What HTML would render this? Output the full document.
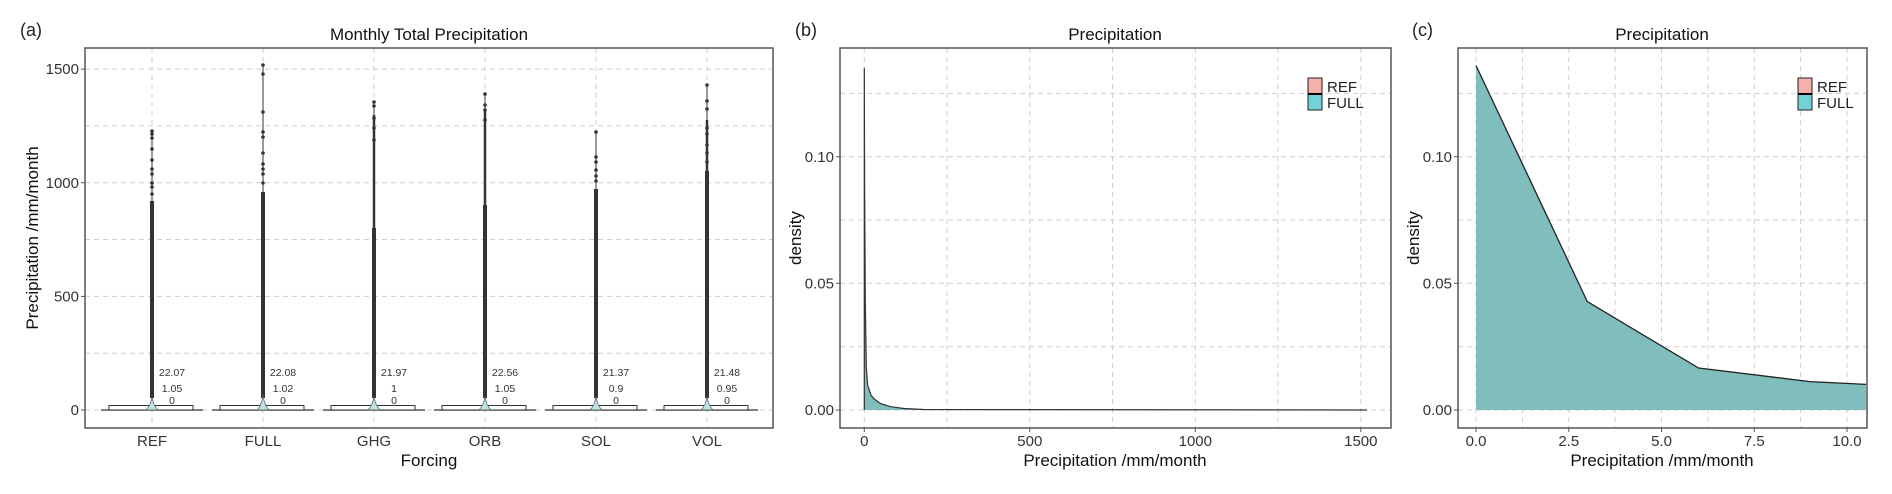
<!DOCTYPE html>
<html><head><meta charset="utf-8"><style>
html,body{margin:0;padding:0;background:#fff;}
svg{display:block;font-family:"Liberation Sans",Arial,sans-serif;}
</style></head><body>
<svg width="1892" height="494" viewBox="0 0 1892 494" xmlns="http://www.w3.org/2000/svg">
<rect width="1892" height="494" fill="#fff"/>
<!-- ============ PANEL A ============ -->
<text x="20" y="36" font-size="18" fill="#222">(a)</text>
<text x="429" y="40" font-size="17" fill="#111" text-anchor="middle">Monthly Total Precipitation</text>
<g stroke="#cfcfcf" stroke-width="1" stroke-dasharray="5,4" fill="none">
<line x1="85" x2="773" y1="410" y2="410"/><line x1="85" x2="773" y1="353.2" y2="353.2"/>
<line x1="85" x2="773" y1="296.4" y2="296.4"/><line x1="85" x2="773" y1="239.5" y2="239.5"/>
<line x1="85" x2="773" y1="182.7" y2="182.7"/><line x1="85" x2="773" y1="125.9" y2="125.9"/>
<line x1="85" x2="773" y1="69.1" y2="69.1"/>
<line x1="152" x2="152" y1="48" y2="428"/><line x1="263" x2="263" y1="48" y2="428"/>
<line x1="374" x2="374" y1="48" y2="428"/><line x1="485" x2="485" y1="48" y2="428"/>
<line x1="596" x2="596" y1="48" y2="428"/><line x1="707" x2="707" y1="48" y2="428"/>
</g>
<!-- boxes & whiskers -->
<g stroke="#333" stroke-width="1" fill="#fff">
<line x1="101" x2="203" y1="410" y2="410" stroke="#555" stroke-width="1.5"/><rect x="109" y="405.5" width="84" height="4.5"/>
<line x1="212" x2="314" y1="410" y2="410" stroke="#555" stroke-width="1.5"/><rect x="220" y="405.5" width="84" height="4.5"/>
<line x1="323" x2="425" y1="410" y2="410" stroke="#555" stroke-width="1.5"/><rect x="331" y="405.5" width="84" height="4.5"/>
<line x1="434" x2="536" y1="410" y2="410" stroke="#555" stroke-width="1.5"/><rect x="442" y="405.5" width="84" height="4.5"/>
<line x1="545" x2="647" y1="410" y2="410" stroke="#555" stroke-width="1.5"/><rect x="553" y="405.5" width="84" height="4.5"/>
<line x1="656" x2="758" y1="410" y2="410" stroke="#555" stroke-width="1.5"/><rect x="664" y="405.5" width="84" height="4.5"/>
</g>
<!-- outlier columns -->
<g stroke="#333" fill="#333">
<line x1="152" x2="152" y1="130" y2="400" stroke-width="1"/><line x1="152" x2="152" y1="201" y2="398" stroke-width="4"/>
<line x1="263" x2="263" y1="64" y2="400" stroke-width="1"/><line x1="263" x2="263" y1="192" y2="398" stroke-width="4"/>
<line x1="374" x2="374" y1="102" y2="400" stroke-width="1"/><line x1="374" x2="374" y1="228" y2="398" stroke-width="4"/><line x1="374" x2="374" y1="115" y2="228" stroke-width="2.5"/>
<line x1="485" x2="485" y1="94" y2="400" stroke-width="1"/><line x1="485" x2="485" y1="205" y2="398" stroke-width="4"/><line x1="485" x2="485" y1="110" y2="205" stroke-width="2.5"/>
<line x1="596" x2="596" y1="131" y2="400" stroke-width="1"/><line x1="596" x2="596" y1="189" y2="398" stroke-width="4"/>
<line x1="707" x2="707" y1="85" y2="400" stroke-width="1"/><line x1="707" x2="707" y1="171" y2="398" stroke-width="4"/><line x1="707" x2="707" y1="120" y2="171" stroke-width="2.5"/>
</g>
<g fill="#333">
<circle cx="152" cy="131" r="1.8"/><circle cx="152" cy="134" r="1.8"/><circle cx="152" cy="138" r="1.8"/><circle cx="152" cy="149" r="1.8"/><circle cx="152" cy="160" r="1.8"/><circle cx="152" cy="169" r="1.8"/><circle cx="152" cy="174" r="1.8"/><circle cx="152" cy="183" r="1.8"/><circle cx="152" cy="187" r="1.8"/><circle cx="152" cy="194" r="1.8"/>
<circle cx="263" cy="65" r="1.8"/><circle cx="263" cy="74" r="1.8"/><circle cx="263" cy="112" r="1.8"/><circle cx="263" cy="132" r="1.8"/><circle cx="263" cy="137" r="1.8"/><circle cx="263" cy="153" r="1.8"/><circle cx="263" cy="164" r="1.8"/><circle cx="263" cy="169" r="1.8"/><circle cx="263" cy="174" r="1.8"/><circle cx="263" cy="183" r="1.8"/>
<circle cx="374" cy="102" r="1.8"/><circle cx="374" cy="106" r="1.8"/><circle cx="374" cy="118" r="1.8"/><circle cx="374" cy="128" r="1.8"/><circle cx="374" cy="140" r="1.8"/>
<circle cx="485" cy="94" r="1.8"/><circle cx="485" cy="105" r="1.8"/><circle cx="485" cy="110" r="1.8"/><circle cx="485" cy="120" r="1.8"/>
<circle cx="596" cy="132" r="1.8"/><circle cx="596" cy="157" r="1.8"/><circle cx="596" cy="162" r="1.8"/><circle cx="596" cy="170" r="1.8"/><circle cx="596" cy="176" r="1.8"/><circle cx="596" cy="181" r="1.8"/>
<circle cx="707" cy="85" r="1.8"/><circle cx="707" cy="101" r="1.8"/><circle cx="707" cy="109" r="1.8"/><circle cx="707" cy="128" r="1.8"/><circle cx="707" cy="134" r="1.8"/><circle cx="707" cy="145" r="1.8"/><circle cx="707" cy="153" r="1.8"/><circle cx="707" cy="162" r="1.8"/>
</g>
<!-- violins -->
<g fill="#bfe0e3" stroke="#555" stroke-width="0.7">
<path d="M146,410 Q151,405 152,396 Q153,405 158,410 Z"/>
<path d="M257,410 Q262,405 263,394 Q264,405 269,410 Z"/>
<path d="M368,410 Q373,405 374,396 Q375,405 380,410 Z"/>
<path d="M479,410 Q484,405 485,396 Q486,405 491,410 Z"/>
<path d="M590,410 Q595,405 596,396 Q597,405 602,410 Z"/>
<path d="M701,410 Q706,405 707,396 Q708,405 713,410 Z"/>
</g>
<g font-size="10.5" fill="#333" text-anchor="middle">
<text x="172" y="376">22.07</text><text x="172" y="392">1.05</text><text x="172" y="404">0</text>
<text x="283" y="376">22.08</text><text x="283" y="392">1.02</text><text x="283" y="404">0</text>
<text x="394" y="376">21.97</text><text x="394" y="392">1</text><text x="394" y="404">0</text>
<text x="505" y="376">22.56</text><text x="505" y="392">1.05</text><text x="505" y="404">0</text>
<text x="616" y="376">21.37</text><text x="616" y="392">0.9</text><text x="616" y="404">0</text>
<text x="727" y="376">21.48</text><text x="727" y="392">0.95</text><text x="727" y="404">0</text>
</g>
<rect x="85" y="48" width="688" height="380" fill="none" stroke="#555" stroke-width="1.5"/>
<g stroke="#555"><line x1="81" x2="85" y1="410" y2="410"/><line x1="81" x2="85" y1="296.4" y2="296.4"/><line x1="81" x2="85" y1="182.7" y2="182.7"/><line x1="81" x2="85" y1="69.1" y2="69.1"/></g>
<g font-size="15" fill="#333" text-anchor="end">
<text x="79" y="415">0</text><text x="79" y="301.5">500</text><text x="79" y="188">1000</text><text x="79" y="74">1500</text>
</g>
<g font-size="15" fill="#333" text-anchor="middle">
<text x="152" y="446">REF</text><text x="263" y="446">FULL</text><text x="374" y="446">GHG</text><text x="485" y="446">ORB</text><text x="596" y="446">SOL</text><text x="707" y="446">VOL</text>
</g>
<text x="429" y="466" font-size="17" fill="#111" text-anchor="middle">Forcing</text>
<text transform="translate(38,238) rotate(-90)" font-size="17" fill="#111" text-anchor="middle">Precipitation /mm/month</text>

<!-- ============ PANEL B ============ -->
<text x="795" y="36" font-size="18" fill="#222">(b)</text>
<text x="1115" y="40" font-size="17" fill="#111" text-anchor="middle">Precipitation</text>
<g stroke="#cfcfcf" stroke-width="1" stroke-dasharray="5,4" fill="none">
<line x1="840" x2="1391" y1="410" y2="410"/><line x1="840" x2="1391" y1="346.7" y2="346.7"/>
<line x1="840" x2="1391" y1="283.3" y2="283.3"/><line x1="840" x2="1391" y1="220" y2="220"/>
<line x1="840" x2="1391" y1="156.7" y2="156.7"/><line x1="840" x2="1391" y1="93.4" y2="93.4"/>
<line x1="864.3" x2="864.3" y1="48" y2="428"/><line x1="947" x2="947" y1="48" y2="428"/>
<line x1="1029.8" x2="1029.8" y1="48" y2="428"/><line x1="1112.5" x2="1112.5" y1="48" y2="428"/>
<line x1="1195.3" x2="1195.3" y1="48" y2="428"/><line x1="1278" x2="1278" y1="48" y2="428"/>
<line x1="1360.8" x2="1360.8" y1="48" y2="428"/>
</g>
<path d="M864.3,410 L864.3,68 L864.6,182 L865.3,301 L866.3,367 L867.6,385 L870.9,395 L874.2,399 L880.8,403.7 L890.8,406.7 L904,408.5 L923.9,409.5 L1367,410 Z" fill="#80bdbd" stroke="none"/>
<path d="M864.3,410 L864.3,68 L864.6,182 L865.3,301 L866.3,367 L867.6,385 L870.9,395 L874.2,399 L880.8,403.7 L890.8,406.7 L904,408.5 L923.9,409.5 L1367,410" fill="none" stroke="#333" stroke-width="1.2"/>
<rect x="840" y="48" width="551" height="380" fill="none" stroke="#555" stroke-width="1.5"/>
<g stroke="#555"><line x1="836" x2="840" y1="410" y2="410"/><line x1="836" x2="840" y1="283.3" y2="283.3"/><line x1="836" x2="840" y1="156.7" y2="156.7"/>
<line x1="864.3" x2="864.3" y1="428" y2="432"/><line x1="1029.8" x2="1029.8" y1="428" y2="432"/><line x1="1195.3" x2="1195.3" y1="428" y2="432"/><line x1="1360.8" x2="1360.8" y1="428" y2="432"/></g>
<g font-size="15" fill="#333" text-anchor="end">
<text x="834" y="415">0.00</text><text x="834" y="288.5">0.05</text><text x="834" y="162">0.10</text>
</g>
<g font-size="15" fill="#333" text-anchor="middle">
<text x="864.3" y="446">0</text><text x="1029.8" y="446">500</text><text x="1195.3" y="446">1000</text><text x="1360.8" y="446">1500</text>
</g>
<text x="1115" y="466" font-size="17" fill="#111" text-anchor="middle">Precipitation /mm/month</text>
<text transform="translate(801,238) rotate(-90)" font-size="17" fill="#111" text-anchor="middle">density</text>
<rect x="1308" y="78" width="14" height="16" fill="#f4b0aa" stroke="#222"/>
<rect x="1308" y="94" width="14" height="16" fill="#73d2d6" stroke="#222"/>
<line x1="1308" x2="1322" y1="94" y2="94" stroke="#000" stroke-width="2"/>
<text x="1327" y="92" font-size="15" fill="#222">REF</text>
<text x="1327" y="108" font-size="15" fill="#222">FULL</text>

<!-- ============ PANEL C ============ -->
<text x="1412" y="36" font-size="18" fill="#222">(c)</text>
<text x="1662" y="40" font-size="17" fill="#111" text-anchor="middle">Precipitation</text>
<g stroke="#cfcfcf" stroke-width="1" stroke-dasharray="5,4" fill="none">
<line x1="1458" x2="1867" y1="410" y2="410"/><line x1="1458" x2="1867" y1="346.7" y2="346.7"/>
<line x1="1458" x2="1867" y1="283.3" y2="283.3"/><line x1="1458" x2="1867" y1="220" y2="220"/>
<line x1="1458" x2="1867" y1="156.7" y2="156.7"/><line x1="1458" x2="1867" y1="93.4" y2="93.4"/>
<line x1="1476" x2="1476" y1="48" y2="428"/><line x1="1522.4" x2="1522.4" y1="48" y2="428"/>
<line x1="1568.75" x2="1568.75" y1="48" y2="428"/><line x1="1615.1" x2="1615.1" y1="48" y2="428"/>
<line x1="1661.5" x2="1661.5" y1="48" y2="428"/><line x1="1707.9" x2="1707.9" y1="48" y2="428"/>
<line x1="1754.25" x2="1754.25" y1="48" y2="428"/><line x1="1800.6" x2="1800.6" y1="48" y2="428"/>
<line x1="1847" x2="1847" y1="48" y2="428"/>
</g>
<path d="M1476,410 L1476,65.5 L1587.3,301.6 L1698.6,368 L1809.9,381.6 L1866,384.4 L1866,410 Z" fill="#80bdbd"/>
<path d="M1476,65.5 L1587.3,301.6 L1698.6,368 L1809.9,381.6 L1866,384.4" fill="none" stroke="#222" stroke-width="1.3"/>
<rect x="1458" y="48" width="409" height="380" fill="none" stroke="#555" stroke-width="1.5"/>
<g stroke="#555"><line x1="1454" x2="1458" y1="410" y2="410"/><line x1="1454" x2="1458" y1="283.3" y2="283.3"/><line x1="1454" x2="1458" y1="156.7" y2="156.7"/>
<line x1="1476" x2="1476" y1="428" y2="432"/><line x1="1568.75" x2="1568.75" y1="428" y2="432"/><line x1="1661.5" x2="1661.5" y1="428" y2="432"/><line x1="1754.25" x2="1754.25" y1="428" y2="432"/><line x1="1847" x2="1847" y1="428" y2="432"/></g>
<g font-size="15" fill="#333" text-anchor="end">
<text x="1452" y="415">0.00</text><text x="1452" y="288.5">0.05</text><text x="1452" y="162">0.10</text>
</g>
<g font-size="15" fill="#333" text-anchor="middle">
<text x="1476" y="446">0.0</text><text x="1568.75" y="446">2.5</text><text x="1661.5" y="446">5.0</text><text x="1754.25" y="446">7.5</text><text x="1847" y="446">10.0</text>
</g>
<text x="1662" y="466" font-size="17" fill="#111" text-anchor="middle">Precipitation /mm/month</text>
<text transform="translate(1419,238) rotate(-90)" font-size="17" fill="#111" text-anchor="middle">density</text>
<rect x="1798" y="78" width="14" height="16" fill="#f4b0aa" stroke="#222"/>
<rect x="1798" y="94" width="14" height="16" fill="#73d2d6" stroke="#222"/>
<line x1="1798" x2="1812" y1="94" y2="94" stroke="#000" stroke-width="2"/>
<text x="1817" y="92" font-size="15" fill="#222">REF</text>
<text x="1817" y="108" font-size="15" fill="#222">FULL</text>
</svg>
</body></html>
